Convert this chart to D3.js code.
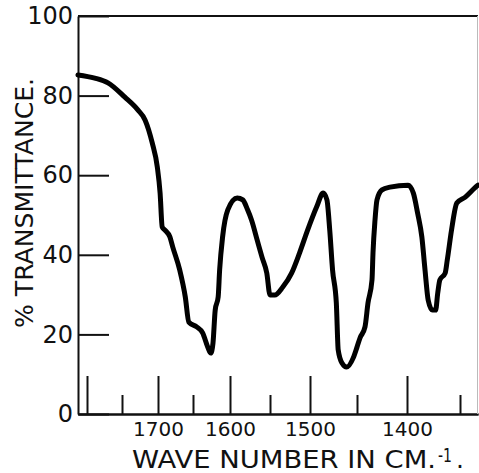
<!DOCTYPE html>
<html>
<head>
<meta charset="utf-8">
<script src="https://cdn.jsdelivr.net/npm/d3@7"></script>
<style>
  body { margin: 0; background: #fff; }
  text { font-family: "DejaVu Sans", sans-serif; fill: #111; }
</style>
</head>
<body>
<div id="chart-area"></div>
<script>
// spectrum (wave number in cm-1, % transmittance)
var wavenumbers = [1813, 1789, 1770, 1746, 1728, 1718, 1708, 1701, 1697, 1694,
  1690, 1683, 1679, 1669, 1661, 1656, 1645, 1637, 1630, 1626,
  1623, 1620, 1616, 1614, 1610, 1603, 1591, 1584, 1578, 1573,
  1566, 1560, 1554, 1550, 1544, 1534, 1523, 1513, 1503, 1493,
  1486, 1482, 1479, 1476, 1472, 1470, 1466, 1461, 1454, 1450,
  1447, 1442, 1439, 1435, 1434, 1432, 1430, 1425, 1417, 1399,
  1394, 1390, 1386, 1383, 1380, 1376, 1373, 1371, 1369, 1364,
  1362, 1358, 1353, 1345, 1336, 1333];
var transmittance = [85.2, 84.4, 83.2, 79.6, 76.4, 73.9, 68.1, 62.1, 55.5, 47.0,
  46.2, 44.5, 42.0, 36.2, 29.4, 23.1, 21.9, 20.4, 16.8, 15.3,
  17.8, 26.1, 29.4, 36.2, 44.5, 51.3, 54.3, 53.8, 51.3, 48.7,
  43.7, 39.4, 35.4, 29.9, 29.9, 31.9, 35.4, 40.5, 46.2, 52.0,
  55.5, 53.8, 46.2, 36.2, 27.9, 16.1, 12.8, 11.8, 14.1, 16.8,
  19.1, 21.9, 27.9, 33.7, 40.5, 48.7, 53.8, 56.3, 57.0, 57.5,
  55.5, 50.5, 44.5, 36.2, 28.6, 26.1, 26.1, 30.4, 33.7, 35.4,
  38.7, 46.2, 53.0, 54.5, 56.8, 57.5];

var majorTicks = [1800, 1700, 1600, 1500, 1400];
var minorTicks = [1750, 1650, 1550, 1450, 1350];
var yTicks = [0, 20, 40, 60, 80, 100];

var data = wavenumbers.map(function(w, i) {
  return { wn: w, t: transmittance[i] };
});

// set margin
var margin = { top: 16, right: 1, bottom: 59, left: 78 };
var width = 479 - margin.left - margin.right;
var height = 473 - margin.top - margin.bottom;

var svg = d3.select("#chart-area").append("svg")
  .attr("width", width + margin.left + margin.right)
  .attr("height", height + margin.top + margin.bottom)
  .append("g")
  .attr("transform", "translate(" + margin.left + "," + margin.top + ")");

// the instrument's wave number scale is not linear, so calibrate it on its ticks
var x = d3.scaleLinear()
  .domain([1813, 1800, 1750, 1700, 1650, 1600, 1550, 1500, 1450, 1400, 1350, 1333])
  .range([0, 9, 44, 80, 115, 152, 192, 232, 279, 329, 382, 400]);

var y = d3.scaleLinear()
  .domain([0, 100])
  .range([height, 0]);

// axes
var xMajor = d3.axisBottom(x)
  .tickValues(majorTicks)
  .tickSizeInner(-38)
  .tickSizeOuter(0)
  .tickPadding(8)
  .tickFormat(function(d) { return d === 1800 ? "" : d; });

var xMinor = d3.axisBottom(x)
  .tickValues(minorTicks)
  .tickSizeInner(-19)
  .tickSizeOuter(0)
  .tickFormat("");

var yAxis = d3.axisLeft(y)
  .tickValues(yTicks)
  .tickSizeInner(-31)
  .tickSizeOuter(0)
  .tickPadding(5);

var xMinorGroup = svg.append("g")
  .attr("class", "axis x-minor")
  .attr("transform", "translate(0," + height + ")")
  .call(xMinor);

var xAxisGroup = svg.append("g")
  .attr("class", "axis x-axis")
  .attr("transform", "translate(0," + height + ")")
  .call(xMajor);

var yAxisGroup = svg.append("g")
  .attr("class", "axis y-axis")
  .call(yAxis);

svg.selectAll(".axis path, .axis line")
  .attr("stroke", "#111")
  .attr("stroke-width", 2);

xAxisGroup.selectAll("text")
  .attr("font-size", 20)
  .attr("fill", "#111");

yAxisGroup.selectAll("text")
  .attr("font-size", 24)
  .attr("fill", "#111");

// frame: top line and faint right edge
svg.append("line")
  .attr("x1", 0).attr("x2", width)
  .attr("y1", 0).attr("y2", 0)
  .attr("stroke", "#111")
  .attr("stroke-width", 2);

svg.append("line")
  .attr("x1", width - 0.5).attr("x2", width - 0.5)
  .attr("y1", 0).attr("y2", height)
  .attr("stroke", "#bbb")
  .attr("stroke-width", 1);

// spectrum trace
var line = d3.line()
  .x(function(d) { return x(d.wn); })
  .y(function(d) { return y(d.t); })
  .curve(d3.curveMonotoneX);

svg.append("path")
  .datum(data)
  .attr("fill", "none")
  .attr("stroke", "#000")
  .attr("stroke-width", 5)
  .attr("stroke-linejoin", "round")
  .attr("stroke-linecap", "round")
  .attr("d", line);

// axis titles
svg.append("text")
  .attr("transform", "translate(" + (33 - margin.left) + "," + (203 - margin.top) + ") rotate(-90)")
  .attr("text-anchor", "middle")
  .attr("font-size", 25)
  .attr("textLength", 250)
  .attr("lengthAdjust", "spacingAndGlyphs")
  .text("% TRANSMITTANCE.");

var xTitle = svg.append("g")
  .attr("transform", "translate(" + (-margin.left) + "," + (-margin.top) + ")");

xTitle.append("text")
  .attr("x", 132)
  .attr("y", 468)
  .attr("font-size", 25)
  .attr("textLength", 304)
  .attr("lengthAdjust", "spacingAndGlyphs")
  .text("WAVE NUMBER IN CM.");

xTitle.append("text")
  .attr("x", 438)
  .attr("y", 462)
  .attr("font-size", 19)
  .attr("textLength", 14)
  .attr("lengthAdjust", "spacingAndGlyphs")
  .text("-1");

xTitle.append("text")
  .attr("x", 456)
  .attr("y", 468)
  .attr("font-size", 25)
  .text(".");
</script>
</body>
</html>
